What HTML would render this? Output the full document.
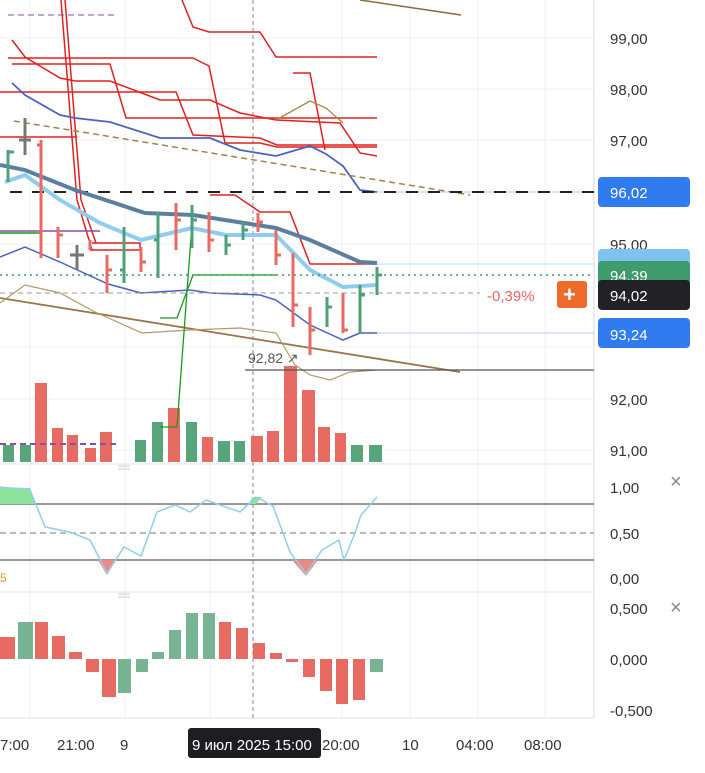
<!DOCTYPE html>
<html><head><meta charset="utf-8"><style>
body{margin:0;background:#fff;width:705px;height:768px;overflow:hidden;font-family:"Liberation Sans",sans-serif}
svg text{font-family:"Liberation Sans",sans-serif}
</style></head><body>
<svg width="705" height="768" xmlns="http://www.w3.org/2000/svg">
<rect width="705" height="768" fill="#fff"/>
<g stroke="#eef0f4" stroke-width="1">
<line x1="30" y1="0" x2="30" y2="718"/><line x1="125" y1="0" x2="125" y2="718"/><line x1="210" y1="0" x2="210" y2="718"/><line x1="342" y1="0" x2="342" y2="718"/><line x1="410" y1="0" x2="410" y2="718"/><line x1="478" y1="0" x2="478" y2="718"/><line x1="545" y1="0" x2="545" y2="718"/>
<line x1="0" y1="38" x2="594" y2="38"/><line x1="0" y1="89" x2="594" y2="89"/><line x1="0" y1="140" x2="594" y2="140"/><line x1="0" y1="244" x2="594" y2="244"/><line x1="0" y1="347" x2="594" y2="347"/><line x1="0" y1="399" x2="594" y2="399"/><line x1="0" y1="450" x2="594" y2="450"/>
</g>
<line x1="594" y1="0" x2="594" y2="718" stroke="#d8dbe0"/>
<line x1="0" y1="464" x2="594" y2="464" stroke="#e0e3e8"/>
<line x1="0" y1="592" x2="594" y2="592" stroke="#e0e3e8"/>
<line x1="0" y1="718" x2="594" y2="718" stroke="#e0e3e8"/>
<line x1="253" y1="0" x2="253" y2="718" stroke="#888" stroke-dasharray="4,3"/>
<line x1="8" y1="15" x2="118" y2="15" stroke="#8a4fa6" stroke-dasharray="6,4"/>
<g>
<rect x="3" y="445" width="11" height="17" fill="#58a57c"/><rect x="20" y="445" width="11" height="17" fill="#58a57c"/>
<rect x="35" y="383" width="12" height="79" fill="#e86b63"/><rect x="52" y="428" width="11" height="34" fill="#e86b63"/>
<rect x="67" y="435" width="11" height="27" fill="#e86b63"/><rect x="85" y="448" width="11" height="14" fill="#e86b63"/>
<rect x="100" y="432" width="12" height="30" fill="#e86b63"/><rect x="135" y="440" width="11" height="22" fill="#58a57c"/>
<rect x="152" y="422" width="11" height="40" fill="#58a57c"/><rect x="168" y="408" width="12" height="54" fill="#e86b63"/>
<rect x="186" y="422" width="11" height="40" fill="#58a57c"/><rect x="202" y="437" width="11" height="25" fill="#e86b63"/>
<rect x="218" y="441" width="12" height="21" fill="#58a57c"/><rect x="234" y="441" width="11" height="21" fill="#58a57c"/>
<rect x="251" y="436" width="12" height="26" fill="#e86b63"/><rect x="267" y="431" width="12" height="31" fill="#e86b63"/>
<rect x="284" y="366" width="13" height="96" fill="#e86b63"/><rect x="302" y="390" width="13" height="72" fill="#e86b63"/>
<rect x="318" y="427" width="12" height="35" fill="#e86b63"/><rect x="335" y="433" width="11" height="29" fill="#e86b63"/>
<rect x="351" y="445" width="12" height="17" fill="#58a57c"/><rect x="369" y="445" width="13" height="17" fill="#58a57c"/>
</g>
<line x1="0" y1="444" x2="118" y2="444" stroke="#8a4fa6" stroke-dasharray="6,4" stroke-width="2"/>
<g fill="none" stroke="#e3201f" stroke-width="1.5">
<polyline points="61,0 77,200 92,250"/><polyline points="65,0 81,200 96,243"/>
<polyline points="92,243 140,243 140,250 90,250"/>
<polyline points="182,0 193,27 209,32 260,32 276,57 377,57"/>
<polyline points="8,58 193,58 209,66 225,143 260,143 277,147 377,147"/>
<polyline points="12,64 110,64 126,118 377,118"/>
<polyline points="12,40 25,57 60,78 75,81 110,81 160,100 210,100 240,113 276,120 340,123 360,153 377,156"/>
<polyline points="0,92 176,92 193,135 260,138 277,145 377,145"/>
<polyline points="293,73 310,73 325,150"/>
<polyline points="0,137 77,137"/>
<polyline points="210,195 235,195 260,212 290,212 310,264 377,264"/>
</g>
<polyline fill="none" stroke="#a08a45" stroke-width="1.3" points="276,120 310,101 326,108 343,123"/>
<polyline fill="none" stroke="#4a62c4" stroke-width="1.8" points="12,83 25,95 60,115 75,118 110,122 160,138 210,138 240,150 276,156 310,146 326,154 343,166 360,190 377,192"/>
<line x1="377" y1="192" x2="594" y2="192" stroke="#b9c9ee"/>
<line x1="14" y1="121" x2="470" y2="195" stroke="#a6804f" stroke-width="1.5" stroke-dasharray="6,4"/>
<line x1="10" y1="192" x2="594" y2="192" stroke="#222" stroke-width="2" stroke-dasharray="12,10"/>
<polyline fill="none" stroke="#5a7fa0" stroke-width="4" points="0,165 25,170 75,190 145,213 193,215 276,228 310,240 360,262 377,263"/>
<line x1="377" y1="264" x2="594" y2="264" stroke="#b9ddf3"/>
<polyline fill="none" stroke="#8fcdee" stroke-width="4" points="5,182 25,175 60,200 100,223 141,240 192,228 226,235 276,235 310,270 343,287 377,285"/>
<polyline fill="none" stroke="#4a62c4" stroke-width="1.5" points="0,257 25,247 60,262 108,284 141,293 190,290 210,293 260,295 276,300 310,325 343,340 360,333 377,333"/>
<line x1="377" y1="333" x2="594" y2="333" stroke="#b9c9ee"/>
<line x1="0" y1="298" x2="460" y2="372" stroke="#9a7546" stroke-width="1.8"/>
<polyline fill="none" stroke="#b09a6a" stroke-width="1.2" points="0,303 25,285 60,293 95,312 142,333 190,330 240,328 276,333 295,365 310,375 330,380 350,372 377,370"/>
<polyline fill="none" stroke="#1a9a1a" stroke-width="1.3" points="160,427 177,427 193,210"/>
<polyline fill="none" stroke="#1a9a1a" stroke-width="1.3" points="160,318 177,318 193,275 276,275"/>
<line x1="0" y1="231" x2="100" y2="231" stroke="#8a4fa6" stroke-width="1.5"/>
<line x1="0" y1="233" x2="40" y2="233" stroke="#1a9a1a" stroke-width="1.5"/>
<line x1="0" y1="275" x2="594" y2="275" stroke="#3c9a6c" stroke-dasharray="2,4" stroke-width="1.5"/>
<line x1="0" y1="293" x2="480" y2="293" stroke="#999" stroke-dasharray="5,4"/>
<line x1="245" y1="370" x2="594" y2="370" stroke="#555" stroke-width="1.3"/>
<line x1="360" y1="0" x2="461" y2="15" stroke="#8a6a40" stroke-width="1.5"/>
<text x="248" y="363" font-size="14" fill="#555">92,82 ↗</text>
<g stroke-width="3" fill="none">
<g stroke="#4f9f78"><path d="M8,150V182M8,152H14"/><path d="M124,227V283M120,270H124"/><path d="M158,212V278M154,240H158"/><path d="M192,205V248M192,220H197"/><path d="M226,235V255M226,245H231"/><path d="M243,222V240M243,230H248"/><path d="M327,297V327M327,307H332"/><path d="M360,285V333M360,295H365"/><path d="M377,267V295M377,275H382"/></g>
<g stroke="#e86b63"><path d="M41,140V258M41,145H37"/><path d="M58,227V258M58,235H63"/><path d="M90,240V250"/><path d="M107,255V293M107,270H112"/><path d="M141,247V272M141,262H146"/><path d="M176,203V250M176,220H181"/><path d="M209,212V252M209,240H214"/><path d="M258,213V232M258,222H263"/><path d="M276,230V265M276,255H281"/><path d="M293,253V327M293,305H298"/><path d="M310,307V355M310,330H315"/><path d="M343,293V333M343,330H348"/></g>
<g stroke="#777"><path d="M25,118V155M19,140H31"/><path d="M77,245V270M70,255H84"/></g>
</g>
<g font-size="15" fill="#333">
<text x="610" y="44">99,00</text><text x="610" y="95">98,00</text><text x="610" y="146">97,00</text><text x="610" y="250">95,00</text><text x="610" y="405">92,00</text><text x="610" y="456">91,00</text>
<text x="610" y="493">1,00</text><text x="610" y="539">0,50</text><text x="610" y="584">0,00</text>
<text x="610" y="614">0,500</text><text x="610" y="665">0,000</text><text x="610" y="716">-0,500</text>
</g>
<rect x="598" y="177" width="92" height="30" rx="4" fill="#2f7bef"/><text x="610" y="198" font-size="15" fill="#fff">96,02</text>
<rect x="598" y="249" width="92" height="30" rx="4" fill="#7ec3ef"/>
<rect x="598" y="261" width="92" height="30" rx="4" fill="#3e9c6c"/><text x="610" y="281" font-size="15" fill="#fff">94,39</text>
<rect x="598" y="280" width="92" height="30" rx="4" fill="#222226"/><text x="610" y="301" font-size="15" fill="#fff">94,02</text>
<rect x="598" y="318" width="92" height="30" rx="4" fill="#2f7bef"/><text x="610" y="340" font-size="15" fill="#fff">93,24</text>
<rect x="557" y="281" width="30" height="27" rx="3" fill="#ef6b2b"/><text x="563" y="302" font-size="22" fill="#fff" font-weight="bold">+</text>
<text x="487" y="301" font-size="15" fill="#e46562">-0,39%</text>
<line x1="0" y1="504" x2="594" y2="504" stroke="#777" stroke-width="1.5"/>
<line x1="0" y1="560" x2="594" y2="560" stroke="#777" stroke-width="1.5"/>
<line x1="0" y1="533" x2="594" y2="533" stroke="#777" stroke-dasharray="6,4"/>
<polygon points="0,487 30,488 35,504 0,504" fill="#8ee39a"/>
<polygon points="98,560 116,560 107,575" fill="#ee8a86"/>
<polygon points="292,560 318,560 306,576" fill="#ee8a86"/>
<polygon points="252,497 262,497 256,504 250,504" fill="#8ee39a"/>
<polyline fill="none" stroke="#8fcfea" stroke-width="1.5" points="0,487 30,490 45,527 70,532 90,540 107,573 124,547 141,556 157,512 175,505 190,512 206,500 240,512 256,497 273,506 290,552 306,574 322,550 339,540 344,560 355,533 361,515 377,497"/>
<text x="0" y="582" font-size="12" fill="#d79a2a">5</text>
<g stroke="#ccc"><line x1="118" y1="466" x2="130" y2="466"/><line x1="118" y1="469" x2="130" y2="469"/><line x1="118" y1="594" x2="130" y2="594"/><line x1="118" y1="597" x2="130" y2="597"/></g>
<text x="670" y="488" font-size="20" fill="#888">×</text><text x="670" y="614" font-size="20" fill="#888">×</text>
<g>
<rect x="0" y="637" width="15" height="22" fill="#e86b63"/><rect x="18" y="622" width="15" height="37" fill="#78b394"/>
<rect x="35" y="622" width="13" height="37" fill="#e86b63"/><rect x="52" y="636" width="13" height="23" fill="#e86b63"/>
<rect x="69" y="652" width="13" height="7" fill="#e86b63"/><rect x="86" y="659" width="13" height="13" fill="#e86b63"/>
<rect x="102" y="659" width="14" height="38" fill="#e86b63"/><rect x="118" y="659" width="13" height="34" fill="#78b394"/>
<rect x="136" y="659" width="12" height="13" fill="#78b394"/><rect x="152" y="652" width="12" height="7" fill="#78b394"/>
<rect x="169" y="630" width="12" height="29" fill="#78b394"/><rect x="186" y="613" width="12" height="46" fill="#78b394"/>
<rect x="203" y="613" width="12" height="46" fill="#78b394"/><rect x="219" y="622" width="12" height="37" fill="#e86b63"/>
<rect x="236" y="628" width="12" height="31" fill="#e86b63"/><rect x="253" y="643" width="12" height="16" fill="#e86b63"/>
<rect x="270" y="653" width="12" height="6" fill="#e86b63"/><rect x="286" y="659" width="12" height="3" fill="#e86b63"/>
<rect x="303" y="659" width="12" height="18" fill="#e86b63"/><rect x="320" y="659" width="12" height="32" fill="#e86b63"/>
<rect x="336" y="659" width="12" height="45" fill="#e86b63"/><rect x="353" y="659" width="12" height="41" fill="#e86b63"/>
<rect x="370" y="659" width="13" height="13" fill="#78b394"/>
</g>
<g font-size="15" fill="#333">
<text x="0" y="750">7:00</text><text x="57" y="750">21:00</text><text x="120" y="750">9</text><text x="322" y="750">20:00</text><text x="402" y="750">10</text><text x="456" y="750">04:00</text><text x="524" y="750">08:00</text>
</g>
<rect x="188" y="728" width="133" height="30" rx="3" fill="#1e1e22"/>
<text x="192" y="750" font-size="15" fill="#fff" font-family="Liberation Sans, DejaVu Sans, sans-serif">9 июл 2025 15:00</text>
</svg>
</body></html>
